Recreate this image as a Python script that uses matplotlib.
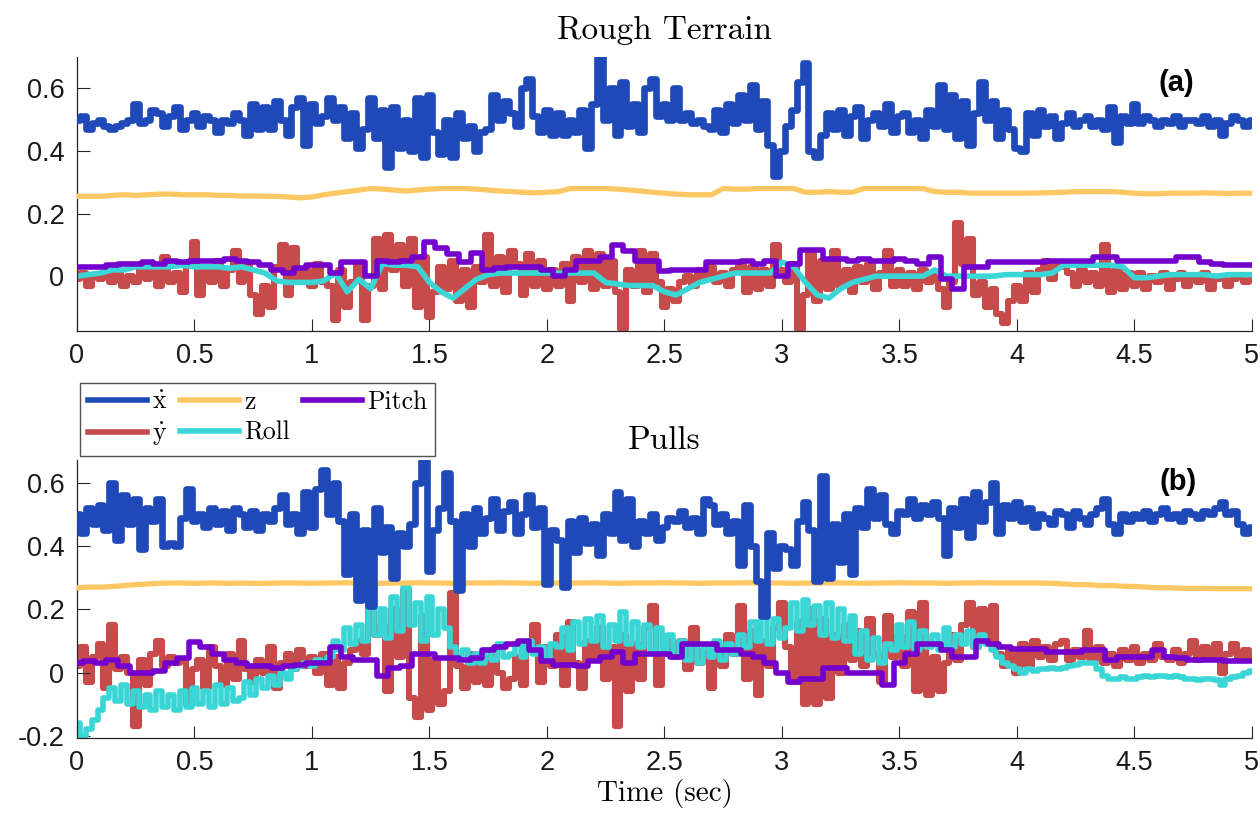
import numpy as np
import matplotlib
matplotlib.use('Agg')
import matplotlib.pyplot as plt

plt.rcParams['mathtext.fontset'] = 'cm'
plt.rcParams['axes.unicode_minus'] = False

# ---- Rough terrain run (x-dot / y-dot sampled every 0.025 s, the rest every 0.05 s)
top_xdot = [
    0.50, 0.51, 0.47, 0.49,
    0.50, 0.48, 0.47, 0.48, 0.49, 0.50, 0.55, 0.49, 0.50, 0.53, 0.52, 0.48, 0.51, 0.54, 0.47, 0.50, 0.52, 0.48, 0.51, 0.50,
    0.46, 0.50, 0.49, 0.52,
    0.50, 0.45, 0.55, 0.47, 0.54, 0.47, 0.56, 0.50, 0.45, 0.54, 0.57, 0.42, 0.55, 0.49, 0.51,
    0.57, 0.50, 0.54, 0.44, 0.52, 0.41, 0.47, 0.57, 0.44, 0.53, 0.35, 0.54, 0.41, 0.50, 0.40, 0.57, 0.38, 0.58, 0.46, 0.39,
    0.50, 0.38, 0.52, 0.44, 0.48, 0.40, 0.46, 0.47, 0.58, 0.50, 0.56,
    0.52, 0.48, 0.60, 0.63, 0.51, 0.46, 0.53, 0.45,
    0.52, 0.45, 0.50, 0.46, 0.53, 0.41, 0.55, 0.70, 0.50, 0.60, 0.45, 0.62, 0.48, 0.55, 0.46, 0.60, 0.63, 0.51, 0.55, 0.50,
    0.60, 0.50, 0.52, 0.49, 0.50, 0.48, 0.47, 0.53, 0.46, 0.55, 0.49, 0.58, 0.50, 0.61, 0.47, 0.56, 0.42, 0.32, 0.40,
    0.48, 0.53, 0.62, 0.68, 0.40, 0.38, 0.45, 0.52, 0.47, 0.53, 0.45, 0.51, 0.54, 0.44, 0.50, 0.52, 0.48, 0.55, 0.46, 0.51,
    0.52, 0.46, 0.50, 0.44, 0.53, 0.48, 0.61, 0.47, 0.58, 0.44, 0.56, 0.42, 0.52, 0.62, 0.50, 0.56, 0.44, 0.53, 0.47, 0.41,
    0.40, 0.52, 0.45, 0.53, 0.48, 0.51, 0.44,
    0.49, 0.52, 0.48, 0.50, 0.51, 0.48, 0.50, 0.47, 0.54, 0.43, 0.51, 0.49,
    0.55, 0.49, 0.51, 0.50, 0.48, 0.50, 0.49, 0.51, 0.48, 0.50, 0.50, 0.49, 0.51, 0.48, 0.50, 0.45, 0.49, 0.51, 0.50, 0.48, 0.50,
]
top_ydot = [
    -0.01, 0.01, -0.03, 0.00,
    -0.01, 0.01, -0.02, 0.02, -0.03, 0.00, -0.02, 0.03, -0.01, 0.02, -0.03, 0.06, -0.02, 0.01, -0.05, 0.04, 0.11, -0.06, 0.03, -0.02,
    0.05, -0.03, 0.02,
    0.08, -0.02, 0.04, -0.06, -0.12, -0.03, -0.10, 0.03, 0.10, -0.06, 0.09, -0.01, 0.02, -0.03, 0.04, -0.02,
    -0.03, -0.14, 0.02, -0.10, -0.02, 0.04, -0.14, -0.03, 0.12, -0.04, 0.13, 0.02, 0.10, -0.03, 0.12, -0.10, 0.06, -0.13, -0.05, 0.03,
    -0.04, 0.05, -0.08, 0.02, -0.10, 0.03, -0.02, 0.13, -0.03, 0.06, -0.05, 0.08,
    0.04, -0.06, 0.07, -0.03, 0.05, -0.04, 0.02,
    -0.03, 0.04, -0.08, 0.06, -0.02, 0.08, -0.04, 0.07, -0.03, 0.05, -0.05, -0.17, 0.02, -0.03, 0.08, -0.05, 0.07, -0.02, -0.10, -0.04,
    -0.08, -0.02, 0.00, -0.03, 0.02, -0.01, 0.03, -0.02, 0.01, -0.03, 0.02, 0.04, -0.05, 0.03, -0.04, 0.02, -0.03, 0.10, 0.02,
    -0.02, 0.04, -0.17, -0.06, 0.07, -0.08, 0.05, -0.04, 0.08, -0.03, 0.02, -0.05, 0.03, -0.02, 0.04, -0.04, 0.01, 0.08, -0.03, 0.02,
    -0.03, 0.01, -0.04, 0.02, -0.02, 0.00, -0.04, -0.10, -0.02, 0.17, 0.04, 0.12, -0.06, -0.02, -0.10, -0.04, -0.12, -0.15, -0.08, -0.03,
    -0.08, 0.01, -0.05, 0.02, 0.05, -0.01, 0.04,
    0.03, 0.01, -0.03, 0.02, -0.02, 0.01, -0.03, 0.10, -0.05, 0.02, -0.04, 0.01,
    -0.03, 0.01, -0.04, 0.00, -0.02, 0.01, -0.04, -0.01, 0.01, -0.03, 0.00, -0.02, 0.01, -0.04, -0.01, 0.00, -0.03, -0.01, 0.00, -0.02, -0.01,
]
top_z = [
    0.255, 0.255,
    0.255, 0.258, 0.26, 0.258, 0.26, 0.262, 0.262, 0.26, 0.26, 0.26, 0.258, 0.258, 0.256, 0.256, 0.255, 0.255, 0.253, 0.25, 0.253, 0.26,
    0.265, 0.27, 0.275, 0.28,
    0.278, 0.275, 0.272, 0.275, 0.278, 0.28, 0.28, 0.28, 0.278, 0.275, 0.272, 0.27, 0.268, 0.266, 0.268,
    0.27, 0.28, 0.28, 0.28, 0.28, 0.278, 0.275, 0.272, 0.268, 0.265, 0.262, 0.26, 0.26, 0.26, 0.28, 0.278, 0.278, 0.28, 0.28, 0.28,
    0.28, 0.268, 0.268, 0.27, 0.268, 0.268, 0.28, 0.28, 0.28, 0.28, 0.28,
    0.28, 0.27, 0.268, 0.268, 0.265, 0.265, 0.265, 0.265,
    0.265, 0.265, 0.266, 0.267, 0.268, 0.27, 0.27, 0.27, 0.27, 0.268, 0.265, 0.263, 0.263, 0.265, 0.265, 0.265, 0.266, 0.265, 0.264, 0.265, 0.265,
]
top_roll = [
    0.0, 0.005,
    0.01, 0.02, 0.02, 0.03, 0.03, 0.03, 0.03, 0.035, 0.03, 0.03, 0.03, 0.025, 0.03, 0.02, 0.01, -0.015, -0.02, -0.02, -0.02, -0.015,
    0.01, -0.05, -0.01,
    -0.04, 0.04, 0.035, 0.035, 0.03, -0.02, -0.05, -0.07, -0.04, -0.01, 0.005, 0.01, 0.01, 0.01, 0.01, 0.01,
    0.01, 0.01, 0.01, 0.01, -0.02, -0.025, -0.03, -0.03, -0.03, -0.05, -0.06, -0.04, -0.02, -0.01, 0.0, 0.01, 0.01, 0.01, 0.01, 0.045,
    0.03, -0.02, -0.06, -0.07, -0.04, -0.02, -0.01, 0.0, 0.0, 0.0, 0.0,
    0.0, 0.02, 0.0, 0.0, 0.0, 0.0, 0.0, 0.005,
    0.005, 0.005, 0.005, 0.01, 0.035, 0.035, 0.035, 0.035, 0.035, 0.03, -0.005, -0.005, 0.0, 0.005, 0.005, 0.005, 0.005, 0.0, 0.005, 0.005, 0.005,
]
top_pitch = [
    0.03, 0.03,
    0.03, 0.035, 0.04, 0.04, 0.045, 0.04, 0.05, 0.045, 0.05, 0.05, 0.05, 0.055, 0.05, 0.045, 0.035, 0.02, 0.01, 0.025, 0.035, 0.035,
    0.01, 0.045, 0.045,
    0.0, 0.05, 0.045, 0.05, 0.06, 0.11, 0.09, 0.07, 0.045, 0.075, 0.02, 0.025, 0.03, 0.03, 0.03, 0.02,
    0.0, 0.02, 0.05, 0.05, 0.06, 0.10, 0.08, 0.05, 0.05, 0.015, 0.02, 0.02, 0.02, 0.045, 0.045, 0.045, 0.05, 0.04, 0.05, 0.0,
    0.04, 0.085, 0.085, 0.055, 0.055, 0.05, 0.055, 0.05, 0.05, 0.055, 0.05,
    0.04, 0.06, -0.01, -0.04, 0.03, 0.03, 0.045, 0.045,
    0.045, 0.045, 0.045, 0.05, 0.05, 0.05, 0.05, 0.06, 0.06, 0.05, 0.05, 0.05, 0.05, 0.05, 0.06, 0.06, 0.045, 0.04, 0.035, 0.035, 0.035,
]

# ---- Pull disturbances run (x-dot / y-dot / roll every 0.025 s, z / pitch every 0.05 s)
bot_xdot = [
    0.50, 0.44, 0.52, 0.47,
    0.53, 0.45, 0.60, 0.42, 0.56, 0.47, 0.55, 0.39, 0.52, 0.48, 0.55, 0.40, 0.41, 0.40, 0.49, 0.58, 0.48, 0.50, 0.46, 0.52,
    0.47, 0.51, 0.45, 0.52,
    0.50, 0.46, 0.51, 0.45, 0.50, 0.48, 0.52, 0.56, 0.47, 0.50, 0.44, 0.57, 0.46, 0.58, 0.64,
    0.50, 0.60, 0.48, 0.31, 0.50, 0.23, 0.45, 0.21, 0.52, 0.38, 0.46, 0.30, 0.44, 0.40, 0.47, 0.60, 0.67, 0.32, 0.45, 0.52,
    0.63, 0.48, 0.26, 0.50, 0.40, 0.52, 0.44, 0.49, 0.55, 0.45, 0.51,
    0.54, 0.44, 0.50, 0.56, 0.46, 0.52, 0.28, 0.45,
    0.42, 0.27, 0.48, 0.38, 0.49, 0.41, 0.47, 0.37, 0.50, 0.44, 0.57, 0.42, 0.55, 0.40, 0.48, 0.44, 0.50, 0.42, 0.46, 0.49,
    0.48, 0.51, 0.46, 0.49, 0.44, 0.55, 0.53, 0.47, 0.50, 0.44, 0.48, 0.34, 0.53, 0.40, 0.29, 0.18, 0.44, 0.33, 0.40,
    0.39, 0.34, 0.48, 0.54, 0.45, 0.29, 0.62, 0.30, 0.47, 0.35, 0.50, 0.31, 0.52, 0.46, 0.58, 0.49, 0.56, 0.47, 0.44, 0.51,
    0.50, 0.55, 0.49, 0.53, 0.50, 0.54, 0.49, 0.37, 0.52, 0.46, 0.55, 0.43, 0.57, 0.48, 0.54, 0.60, 0.44, 0.53, 0.49, 0.54,
    0.48, 0.52, 0.46, 0.50, 0.49, 0.47, 0.51,
    0.50, 0.46, 0.51, 0.49, 0.47, 0.50, 0.52, 0.55, 0.47, 0.44, 0.50, 0.48,
    0.50, 0.49, 0.51, 0.48, 0.50, 0.52, 0.49, 0.50, 0.48, 0.51, 0.50, 0.49, 0.51, 0.50, 0.52, 0.54, 0.50, 0.51, 0.47, 0.44, 0.46,
]
bot_ydot = [
    0.02, 0.08, -0.03, 0.05,
    0.09, -0.05, 0.15, 0.01, 0.05, 0.00, -0.17, 0.04, -0.04, 0.06, 0.10, 0.02, 0.05, 0.03, 0.04, -0.10, 0.01, 0.04, -0.05, 0.08,
    0.02, -0.04, 0.06, -0.02,
    0.10, 0.01, -0.03, 0.04, 0.00, 0.08, -0.05, 0.03, 0.06, 0.01, 0.07, 0.02, 0.05, 0.00, 0.06,
    -0.04, 0.05, -0.05, 0.03, 0.07, 0.10, 0.06, 0.24, 0.12, 0.15, -0.06, 0.20, 0.05, 0.26, -0.08, -0.14, 0.18, -0.12, 0.04, -0.10,
    -0.06, 0.25, 0.02, -0.05, 0.06, -0.03, 0.05, -0.04, 0.07, 0.00, -0.05,
    -0.02, 0.05, -0.04, 0.07, 0.15, -0.03, 0.08, 0.02,
    0.12, -0.04, 0.16, 0.03, -0.05, 0.10, 0.05, 0.14, -0.02, 0.08, -0.17, 0.12, -0.06, 0.09, -0.02, 0.14, 0.21, -0.04, 0.06, 0.10,
    0.05, 0.10, 0.01, 0.14, 0.03, 0.07, -0.05, 0.08, 0.02, 0.12, 0.06, 0.21, -0.02, 0.13, -0.07, 0.10, 0.02, 0.14, 0.22,
    0.08, -0.03, 0.16, -0.10, 0.20, -0.10, 0.17, -0.08, 0.12, 0.00, 0.15, 0.04, 0.13, 0.02, 0.17, 0.06, -0.03, 0.18, 0.05, 0.12,
    0.02, 0.19, -0.06, 0.22, -0.07, 0.05, -0.06, 0.03, 0.12, 0.04, 0.15, 0.22, 0.08, 0.20, 0.10, 0.21, 0.06, 0.02, 0.07, 0.00,
    0.09, 0.02, 0.10, 0.05, 0.08, 0.04, 0.09,
    0.10, 0.04, 0.07, 0.05, 0.13, 0.04, 0.08, 0.03, 0.06, 0.02, 0.07, 0.04,
    0.08, 0.03, 0.06, 0.04, 0.09, 0.05, 0.04, 0.07, 0.03, 0.06, 0.10, 0.04, 0.08, 0.05, 0.09, 0.00, 0.06, 0.09, 0.04, 0.07, 0.05,
]
bot_z = [
    0.268, 0.27,
    0.27, 0.272, 0.275, 0.278, 0.28, 0.282, 0.283, 0.283, 0.282, 0.283, 0.283, 0.282, 0.283, 0.282, 0.282, 0.283, 0.283, 0.283, 0.282, 0.283,
    0.283, 0.284, 0.283, 0.283, 0.282, 0.283, 0.283, 0.284, 0.283, 0.283, 0.282, 0.283, 0.283, 0.283, 0.284, 0.283, 0.283, 0.282, 0.283, 0.283,
    0.283, 0.283, 0.284, 0.283, 0.282, 0.283, 0.283, 0.283, 0.284, 0.283, 0.283, 0.282, 0.283, 0.283, 0.283, 0.284, 0.283, 0.283, 0.283, 0.282,
    0.283, 0.283, 0.284, 0.283, 0.283, 0.282, 0.283, 0.283, 0.284, 0.283, 0.283, 0.283, 0.282, 0.283, 0.283, 0.284, 0.283, 0.283,
    0.283, 0.283, 0.283, 0.282, 0.28, 0.278, 0.278, 0.275, 0.275, 0.273, 0.272, 0.27, 0.268, 0.268, 0.266, 0.266, 0.266, 0.265, 0.265, 0.265, 0.265,
]
bot_roll = [
    -0.16, -0.20, -0.18, -0.15,
    -0.12, -0.08, -0.05, -0.09, -0.04, -0.10, -0.06, -0.11, -0.07, -0.12, -0.06, -0.11, -0.07, -0.12, -0.06, -0.11, -0.05, -0.10, -0.06, -0.11,
    -0.04, -0.10, -0.05, -0.09,
    -0.08, -0.03, -0.07, -0.02, -0.05, -0.01, -0.04, 0.00, -0.02, 0.01, 0.02, 0.03, 0.02, 0.04, 0.03,
    0.05, 0.10, 0.07, 0.14, 0.09, 0.15, 0.10, 0.22, 0.12, 0.20, 0.11, 0.24, 0.13, 0.27, 0.15, 0.22, 0.10, 0.24, 0.12, 0.20,
    0.14, 0.08, 0.05, 0.07, 0.03, 0.06, 0.03, 0.07, 0.04, 0.09, 0.05,
    0.06, 0.09, 0.05, 0.10, 0.06, 0.08, 0.04, 0.09,
    0.08, 0.14, 0.07, 0.16, 0.09, 0.17, 0.10, 0.18, 0.08, 0.15, 0.10, 0.19, 0.09, 0.16, 0.08, 0.15, 0.07, 0.14, 0.06, 0.12,
    0.05, 0.10, 0.04, 0.09, 0.03, 0.08, 0.05, 0.10, 0.04, 0.09, 0.06, 0.12, 0.08, 0.16, 0.10, 0.18, 0.09, 0.17, 0.11,
    0.14, 0.22, 0.13, 0.23, 0.15, 0.21, 0.12, 0.22, 0.11, 0.20, 0.10, 0.18, 0.06, 0.13, 0.04, 0.11, 0.03, 0.09, 0.07, 0.15,
    0.08, 0.16, 0.07, 0.13, 0.08, 0.12, 0.07, 0.14, 0.08, 0.12, 0.09, 0.13, 0.08, 0.12, 0.09, 0.07, 0.05, 0.03, 0.02, 0.01,
    0.00, 0.01, 0.005, 0.01, 0.01, 0.015, 0.01,
    0.015, 0.02, 0.025, 0.03, 0.03, 0.03, 0.01, -0.01, -0.02, -0.02, -0.015, -0.02,
    -0.02, -0.015, -0.01, -0.015, -0.01, -0.01, -0.015, -0.01, -0.015, -0.02, -0.02, -0.025, -0.02, -0.02, -0.025, -0.04, -0.02, -0.015, -0.01, 0.0, 0.005,
]
bot_pitch = [
    0.03, 0.035,
    0.03, 0.04, 0.02, 0.0, 0.0, 0.005, 0.03, 0.045, 0.095, 0.08, 0.06, 0.04, 0.03, 0.02, 0.02, 0.015, 0.02, 0.025, 0.03, 0.03,
    0.08, 0.05, 0.04, 0.04,
    -0.01, 0.015, 0.02, 0.06, 0.06, 0.045, 0.045, 0.04, 0.045, 0.07, 0.08, 0.09, 0.10, 0.07, 0.035,
    0.025, 0.025, 0.02, 0.035, 0.05, 0.065, 0.03, 0.06, 0.06, 0.06, 0.05, 0.09, 0.09, 0.09, 0.07, 0.07, 0.06, 0.05, 0.03, 0.0,
    -0.03, -0.02, -0.02, 0.015, 0.015, 0.0, 0.0, 0.0, -0.04, 0.03, 0.06,
    0.09, 0.09, 0.07, 0.05, 0.05, 0.1, 0.09, 0.08,
    0.075, 0.075, 0.075, 0.065, 0.065, 0.065, 0.07, 0.07, 0.04, 0.05, 0.05, 0.05, 0.07, 0.05, 0.045, 0.04, 0.04, 0.04, 0.035, 0.035, 0.035,
]

time_ticks = [0, 0.5, 1, 1.5, 2, 2.5, 3, 3.5, 4, 4.5, 5]
time_labels = ['0', '0.5', '1', '1.5', '2', '2.5', '3', '3.5', '4', '4.5', '5']

C_XDOT = '#1f48b8'
C_YDOT = '#c84b4b'
C_Z = '#fdc863'
C_ROLL = '#3ad6d6'
C_PITCH = '#7300cc'
AX_COLOR = '#262626'


def tgrid(values):
    return np.linspace(0, 5, len(values))


def draw_panel(ax, xdot, ydot, z, roll, pitch, roll_steps=False):
    kw = dict(solid_capstyle='round', solid_joinstyle='round')
    ax.plot(tgrid(ydot), ydot, color=C_YDOT, lw=4.4, drawstyle='steps-mid', zorder=1, **kw)
    ax.plot(tgrid(roll), roll, color=C_ROLL, lw=4.0,
            drawstyle='steps-mid' if roll_steps else 'default', zorder=2, **kw)
    ax.plot(tgrid(pitch), pitch, color=C_PITCH, lw=4.0, drawstyle='steps-mid', zorder=3, **kw)
    ax.plot(tgrid(z), z, color=C_Z, lw=3.8, zorder=4, **kw)
    ax.plot(tgrid(xdot), xdot, color=C_XDOT, lw=4.8, drawstyle='steps-mid', zorder=5, **kw)


def style_axes(ax, ylim, yticks, ylabels):
    ax.set_xlim(0, 5)
    ax.set_ylim(*ylim)
    ax.set_xticks(time_ticks)
    ax.set_xticklabels(time_labels)
    ax.set_yticks(yticks)
    ax.set_yticklabels(ylabels)
    for side in ['top', 'right']:
        ax.spines[side].set_visible(False)
    for side in ['left', 'bottom']:
        ax.spines[side].set_color(AX_COLOR)
        ax.spines[side].set_linewidth(0.9)
    ax.tick_params(direction='in', length=9, width=0.8, colors=AX_COLOR,
                   labelsize=19.5, pad=9)
    for lbl in ax.get_xticklabels() + ax.get_yticklabels():
        lbl.set_fontfamily('Liberation Sans')
        lbl.set_color('#1a1a1a')


fig = plt.figure(figsize=(12.6, 8.15), dpi=100)
ax1 = fig.add_axes([0.0611, 0.5939, 0.9325, 0.3362])
ax2 = fig.add_axes([0.0611, 0.0945, 0.9325, 0.3411])

draw_panel(ax1, top_xdot, top_ydot, top_z, top_roll, top_pitch)
draw_panel(ax2, bot_xdot, bot_ydot, bot_z, bot_roll, bot_pitch, roll_steps=True)

style_axes(ax1, (-0.175, 0.70), [0, 0.2, 0.4, 0.6], ['0', '0.2', '0.4', '0.6'])
style_axes(ax2, (-0.207, 0.672), [-0.2, 0, 0.2, 0.4, 0.6], ['-0.2', '0', '0.2', '0.4', '0.6'])

ax1.set_title('Rough Terrain', fontfamily='cmr10', fontsize=24, pad=13)
ax2.set_title('Pulls', fontfamily='cmr10', fontsize=24, pad=8)
ax2.set_xlabel('Time (sec)', fontfamily='cmr10', fontsize=21, labelpad=2)

ax1.text(0.936, 0.905, '(a)', transform=ax1.transAxes, ha='center', va='center',
         fontsize=21, fontweight='bold', fontfamily='Liberation Sans')
ax2.text(0.937, 0.92, '(b)', transform=ax2.transAxes, ha='center', va='center',
         fontsize=21, fontweight='bold', fontfamily='Liberation Sans')

# legend: filled column-wise -> rows read  x-dot, z, Pitch / y-dot, Roll
handles = [
    plt.Line2D([], [], color=C_XDOT, lw=4),
    plt.Line2D([], [], color=C_YDOT, lw=4),
    plt.Line2D([], [], color=C_Z, lw=4),
    plt.Line2D([], [], color=C_ROLL, lw=4),
    plt.Line2D([], [], color=C_PITCH, lw=4),
]
labels = [r'$\dot{\rm x}$', r'$\dot{\rm y}$', 'z', 'Roll', 'Pitch']
leg = fig.legend(handles, labels, ncol=3, loc='upper left',
                 bbox_to_anchor=(0.0635, 1 - 383 / 815), borderaxespad=0,
                 prop={'family': 'cmr10', 'size': 18.5},
                 frameon=True, fancybox=False, edgecolor='#262626',
                 handlelength=2.3, handletextpad=0.2, columnspacing=0.5,
                 labelspacing=0.25, borderpad=0.3)
leg.get_frame().set_linewidth(1.0)

fig.savefig('out.png', dpi=100)
